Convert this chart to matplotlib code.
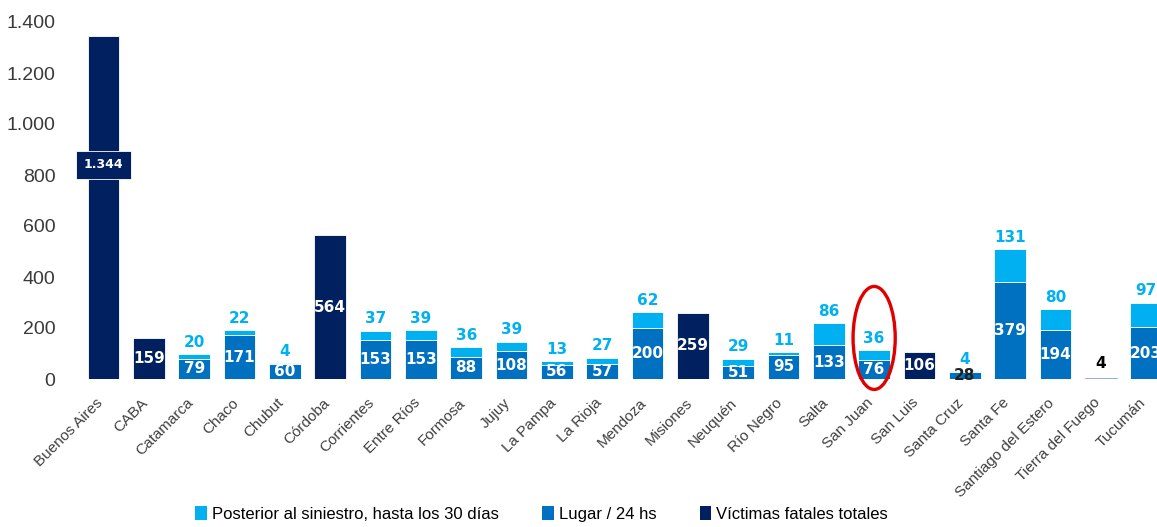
import matplotlib
matplotlib.use("Agg")
import matplotlib.pyplot as plt
from matplotlib.patches import Ellipse, Patch
from matplotlib.ticker import FuncFormatter
from matplotlib.transforms import ScaledTranslation
import numpy as np

provinces = ["Buenos Aires", "CABA", "Catamarca", "Chaco", "Chubut", "Córdoba",
             "Corrientes", "Entre Ríos", "Formosa", "Jujuy", "La Pampa", "La Rioja",
             "Mendoza", "Misiones", "Neuquén", "Río Negro", "Salta", "San Juan",
             "San Luis", "Santa Cruz", "Santa Fe", "Santiago del Estero",
             "Tierra del Fuego", "Tucumán"]
# "Lugar / 24 hs" (0 where only the total is known)
lugar = [0, 0, 79, 171, 60, 0, 153, 153, 88, 108, 56, 57, 200, 0, 51, 95, 133, 76,
         0, 28, 379, 194, 0, 203]
# "Posterior al siniestro, hasta los 30 días"
posterior = [0, 0, 20, 22, 4, 0, 37, 39, 36, 39, 13, 27, 62, 0, 29, 11, 86, 36,
             0, 4, 131, 80, 0, 97]
# "Víctimas fatales totales" (only for provinces without breakdown)
totales = [1344, 159, 0, 0, 0, 564, 0, 0, 0, 0, 0, 0, 0, 259, 0, 0, 0, 0,
           106, 0, 0, 0, 4, 0]
yticks = [0, 200, 400, 600, 800, 1000, 1200, 1400]

C_POST = "#00B0F0"
C_LUG = "#0070C0"
C_TOT = "#002060"
C_TDF = "#8EA9DB"

FONT = ["Liberation Sans", "DejaVu Sans"]
plt.rcParams["font.family"] = FONT

fig = plt.figure(figsize=(11.57, 5.27), dpi=100)
ax = fig.add_axes([75 / 1157, 148 / 527, 1 - 75 / 1157, (379 - 22) / 527])

x = np.arange(len(provinces))
w = 0.7
tot_colors = [C_TDF if p == "Tierra del Fuego" else C_TOT for p in provinces]
tot_edges = [C_TDF if p == "Tierra del Fuego" else "white" for p in provinces]
ax.bar(x, lugar, w, color=C_LUG, edgecolor="white", linewidth=0.6)
ax.bar(x, posterior, w, bottom=lugar, color=C_POST, edgecolor="white", linewidth=0.6)
ax.bar(x, totales, w, color=tot_colors, edgecolor=tot_edges, linewidth=0.6)

lab_kw = dict(fontsize=11, fontweight="bold", family=["DejaVu Sans"])
for i, p in enumerate(provinces):
    if totales[i]:
        if p == "Buenos Aires":
            ax.text(i, 840, "1.344", ha="center", va="center", color="white",
                    fontsize=9, fontweight="bold", family=["DejaVu Sans"],
                    bbox=dict(boxstyle="square,pad=0.6", fc=C_TOT, ec="white", lw=0.6))
        elif p == "Tierra del Fuego":
            ax.annotate(str(totales[i]), (i, totales[i]), xytext=(0, 5),
                        textcoords="offset points", ha="center", va="bottom",
                        color="black", **lab_kw)
        else:
            ax.text(i, totales[i] / 2, str(totales[i]), ha="center", va="center",
                    color="white", **lab_kw)
    else:
        col = "#202020" if lugar[i] < 40 else "white"
        ax.text(i, lugar[i] / 2, str(lugar[i]), ha="center", va="center",
                color=col, **lab_kw)
        ax.annotate(str(posterior[i]), (i, lugar[i] + posterior[i]), xytext=(0, 3),
                    textcoords="offset points", ha="center", va="bottom",
                    color=C_POST, **lab_kw)

ax.set_xlim(-0.63, 23.24)
ax.set_ylim(0, 1400)
ax.set_yticks(yticks)
ax.yaxis.set_major_formatter(FuncFormatter(lambda v, _: f"{int(v):,}".replace(",", ".")))
ax.tick_params(axis="y", length=0, labelsize=14, labelcolor="#3a3a3a", pad=14)
ax.set_xticks(x)
ax.set_xticklabels(provinces, rotation=45, ha="right", rotation_mode="anchor",
                   fontsize=11, color="#404040")
ax.tick_params(axis="x", length=0, pad=12)
shift = ScaledTranslation(-8 / 100, 0, fig.dpi_scale_trans)
for lbl in ax.get_xticklabels():
    lbl.set_transform(lbl.get_transform() + shift)
for s in ax.spines.values():
    s.set_visible(False)

ell = Ellipse((17, 161), width=0.93, height=404, fill=False, ec="#E00000",
              lw=2.4, clip_on=False)
ax.add_patch(ell)

handles = [Patch(fc=C_POST), Patch(fc=C_LUG), Patch(fc=C_TOT)]
labels = ["Posterior al siniestro, hasta los 30 días", "Lugar / 24 hs",
          "Víctimas fatales totales"]
fig.legend(handles, labels, loc="center", bbox_to_anchor=(0.468, 0.025), ncol=3,
           frameon=False, fontsize=12, handlelength=0.7, handleheight=0.9,
           handletextpad=0.3, columnspacing=2.6)

fig.savefig("out.png", dpi=100)
